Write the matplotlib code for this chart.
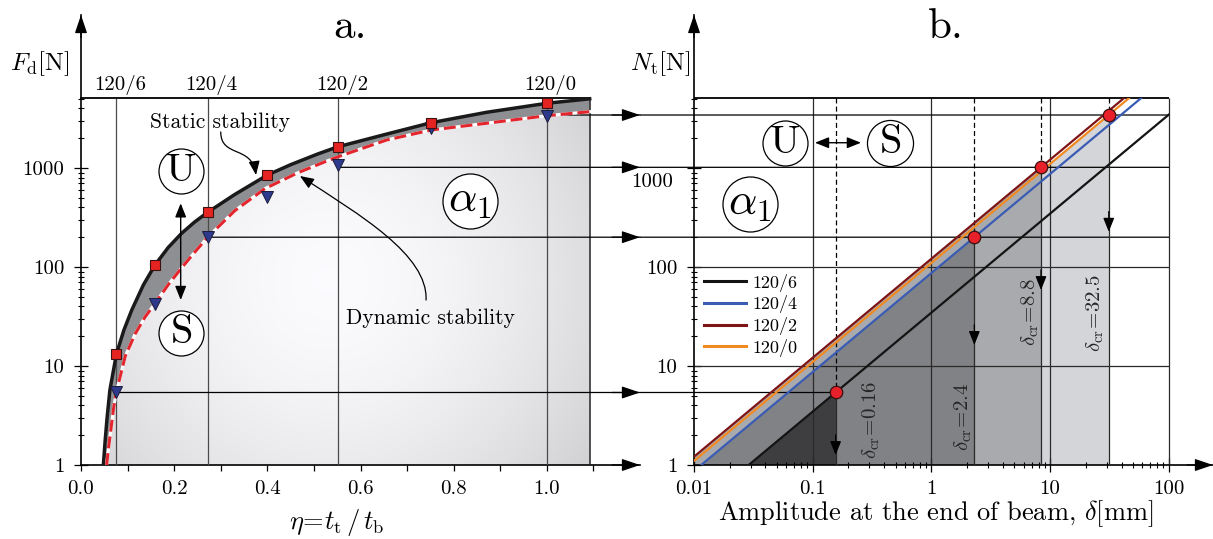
import numpy as np
import matplotlib.pyplot as plt
from matplotlib.patches import Polygon, Rectangle, ConnectionPatch, FancyArrowPatch
from matplotlib.path import Path
from matplotlib.lines import Line2D
from matplotlib.ticker import FixedLocator, FixedFormatter, NullFormatter

plt.rcParams['font.family'] = ['cmr10', 'DejaVu Serif']
plt.rcParams['mathtext.fontset'] = 'cm'
plt.rcParams['axes.unicode_minus'] = False

# ---------------------------------------------------------------- data
# panel a: critical force vs thickness ratio eta
eta_static = [0.048, 0.052, 0.056, 0.062, 0.076, 0.092, 0.109, 0.134, 0.159, 0.187,
              0.216, 0.244, 0.272, 0.330, 0.40, 0.45, 0.509, 0.552, 0.656, 0.752,
              0.871, 1.0, 1.092]
F_static = [1, 1.8, 3.0, 5.7, 13.2, 23, 36.8, 66, 105, 157,
            219, 285, 357, 540, 849, 1080, 1390, 1641, 2200, 2870,
            3655, 4505, 5000]

eta_dyn = [0.055, 0.0595, 0.064, 0.070, 0.076, 0.095, 0.116, 0.137, 0.159, 0.187,
           0.216, 0.244, 0.272, 0.330, 0.395, 0.466, 0.524, 0.552, 0.656, 0.752,
           0.871, 1.0, 1.092]
F_dyn = [1, 1.55, 2.26, 3.75, 5.5, 12.6, 21, 31, 43, 66,
         98, 141, 200, 370, 620, 897, 1158, 1300, 1918, 2420,
         2832, 3375, 3704]

eta_pts = [0.076, 0.159, 0.272, 0.40, 0.552, 0.752, 1.0]
F_static_pts = [13.2, 105, 357, 849, 1641, 2870, 4505]
F_dyn_pts = [5.4, 42.3, 200, 513, 1072, 2517, 3375]

profiles = ['120/6', '120/4', '120/2', '120/0']
eta_profile = [0.076, 0.272, 0.552, 1.0]
eta_max = 1.092
F_top = 5100

# panel b: force vs amplitude, critical points
N_cr = [5.4, 200, 1016, 3430]
delta_dot = [0.156, 2.30, 8.38, 31.2]
delta_labels = ['0.16', '2.4', '8.8', '32.5']
line_colors = ['#141414', '#3a5cb4', '#7e1416', '#f28a22']
fill_colors = ['#3e3e40', '#818285', '#a9aaad', '#d4d5d8']
arrow_tips = [1.26, 16.3, 58.5, 227]

# ---------------------------------------------------------------- figure
W, H = 1213, 539
fig = plt.figure(figsize=(W / 100, H / 100), dpi=100)


def px_axes(x0, x1, y_top, y_bot):
    return [x0 / W, 1 - y_bot / H, (x1 - x0) / W, (y_bot - y_top) / H]


ax1 = fig.add_axes(px_axes(81, 640, 15, 465))
ax2 = fig.add_axes(px_axes(694, 1213, 15, 465))

big_arrow = dict(arrowstyle='-|>,head_length=0.8,head_width=0.27', mutation_scale=14,
                 color='k', lw=0.9, shrinkA=0, shrinkB=0)
small_arrow = dict(arrowstyle='-|>,head_length=0.6,head_width=0.24', mutation_scale=14,
                   color='k', lw=0.9, shrinkA=0, shrinkB=0)
both_arrow = dict(arrowstyle='<|-|>,head_length=0.6,head_width=0.24', mutation_scale=14,
                  color='k', lw=1.0, shrinkA=0, shrinkB=0)


def circled(ax, x, y, txt, size, s):
    ax.scatter([x], [y], s=s, facecolor='white', edgecolor='k', lw=0.9, zorder=9)
    ax.text(x, y, txt, ha='center', va='center', fontsize=size, zorder=10)


def curved_arrow(ax, pts):
    path = Path(pts, [Path.MOVETO, Path.CURVE4, Path.CURVE4, Path.CURVE4])
    arr = FancyArrowPatch(path=path, arrowstyle='-|>,head_length=0.6,head_width=0.24',
                          mutation_scale=14, color='k', lw=0.9, zorder=6)
    ax.add_patch(arr)


# ---------------------------------------------------------------- panel a
ax1.set_yscale('log')

# radial gradient for the stable region
u = np.linspace(0, 1, 400)
v = np.linspace(0, 1, 300)
U, V = np.meshgrid(u, v)
d = np.hypot((U - 0.445) * 559, (V - 0.411) * 450)
g = np.clip(0.985 - 0.165 * (d / 320) ** 1.7, 0, 1)
img = np.dstack([g, g, np.minimum(g + 0.012, 1)])
im = ax1.imshow(img, extent=(0, 1, 0, 1), transform=ax1.transAxes, origin='lower',
                aspect='auto', zorder=1, interpolation='bilinear')
light = Polygon(list(zip(eta_dyn, F_dyn)) + [(eta_max, 1), (eta_dyn[0], 1)],
                closed=True, fc='none', ec='none')
ax1.add_patch(light)
im.set_clip_path(light)

band = Polygon(list(zip(eta_static, F_static)) + list(zip(eta_dyn[::-1], F_dyn[::-1])),
               closed=True, fc='#8e8f92', ec='none', zorder=2)
ax1.add_patch(band)

ax1.vlines(eta_profile, 1, F_top, color='#4a4a4a', lw=0.9, zorder=3)
ax1.plot([eta_max, eta_max], [1, F_top], color='#222222', lw=1.1, zorder=3)
ax1.plot([0, eta_max], [F_top, F_top], color='k', lw=1.3, zorder=3, clip_on=False)

ax1.plot(eta_static, F_static, color='#1a1a1a', lw=2.5, zorder=5)
ax1.plot(eta_dyn, F_dyn, color='white', lw=2.2, zorder=5)
ax1.plot(eta_dyn, F_dyn, color='#e3262d', lw=2.2, ls=(0, (3.9, 1.6)), zorder=6)

ax1.plot(eta_pts, F_static_pts, 's', ms=6.5, mfc='#e52421', mec='#3b1111', mew=0.8, zorder=8)
ax1.plot(eta_pts, F_dyn_pts, 'v', ms=8, mfc='#2d3a8c', mec='#1b1b3b', mew=0.7, zorder=7)

for e, lab in zip(eta_profile, profiles):
    ax1.text(e + 0.008, 0.834, lab, transform=ax1.get_xaxis_transform(),
             ha='center', va='baseline', fontsize=15)

# lines linking the dynamic critical forces to panel b
for i, N in enumerate(N_cr):
    d_end = delta_dot[0] if i == 0 else 100
    seg1 = ConnectionPatch(xyA=(eta_profile[i], N), coordsA=ax1.transData,
                           xyB=(1.0, N), coordsB=ax1.get_yaxis_transform(),
                           color='k', lw=0.9, zorder=4, clip_on=False)
    ax1.add_artist(seg1)
    seg2 = ConnectionPatch(xyA=(1.0, N), coordsA=ax1.get_yaxis_transform(),
                           xyB=(d_end, N), coordsB=ax2.transData,
                           color='k', lw=0.9, zorder=2.5, clip_on=False)
    ax2.add_artist(seg2)
    ax1.annotate('', xy=(1.0, N), xycoords=ax1.get_yaxis_transform(),
                 xytext=(0.95, N), textcoords=ax1.get_yaxis_transform(),
                 arrowprops=big_arrow, zorder=6)

ax1.text(0.298, 2917, 'Static stability', ha='center', va='center', fontsize=15.5, zorder=6)
curved_arrow(ax1, [(0.300, 2312), (0.300, 1262), (0.367, 1707), (0.3757, 849)])
ax1.text(0.751, 30.5, 'Dynamic stability', ha='center', va='center', fontsize=15.5, zorder=6)
curved_arrow(ax1, [(0.7407, 46.4), (0.745, 132), (0.599, 335), (0.470, 830)])

circled(ax1, 0.214, 939, r'$\mathrm{U}$', 29, 1050)
circled(ax1, 0.2147, 21.5, r'$\mathrm{S}$', 29, 1050)
ax1.annotate('', xy=(0.214, 440), xytext=(0.214, 46.4), arrowprops=both_arrow, zorder=8)
circled(ax1, 0.835, 464, r'$\alpha_1$', 32, 1570)

ax1.set_xlim(0, 1.2)
ax1.set_ylim(1, 10 ** (450 / 99))

# ---------------------------------------------------------------- panel b
ax2.set_xscale('log')
ax2.set_yscale('log')

clip_rect = Rectangle((0.01, 1), 100 - 0.01, F_top - 1, transform=ax2.transData)
for i in range(len(N_cr) - 1, -1, -1):
    k = N_cr[i] / delta_dot[i]
    ax2.fill([1 / k, delta_dot[i], delta_dot[i]], [1, 1, N_cr[i]],
             color=fill_colors[i], lw=0, zorder=1)

ax2.vlines([0.1, 1, 10, 100], 1, F_top, color='#2a2a2a', lw=0.9, zorder=2)
ax2.hlines([10, 100], 0.01, 100, color='#2a2a2a', lw=0.9, zorder=2)
ax2.hlines(F_top, 0.01, 100, color='k', lw=1.3, zorder=3)

for i, N in enumerate(N_cr):
    dd = delta_dot[i]
    ax2.plot([dd, dd], [F_top, N], color='k', lw=0.9, ls=(0, (4, 2.5)), zorder=3)
    ax2.plot([dd, dd], [N, 1], color='#2a2a2a', lw=0.9, zorder=3)
    ax2.annotate('', xy=(dd, arrow_tips[i]), xytext=(dd, arrow_tips[i] * 1.6),
                 arrowprops=small_arrow, zorder=5)

for i, N in enumerate(N_cr):
    k = N / delta_dot[i]
    ln, = ax2.plot([0.01, 100], [k * 0.01, k * 100], color=line_colors[i], lw=1.6, zorder=4)
    ln.set_clip_path(clip_rect)

ax2.plot(delta_dot, N_cr, 'o', ms=9, mfc='#e8202a', mec='#3a1010', mew=0.9, zorder=6)

label_pos = [(0.314, 2.85), (1.845, 3.07), (6.77, 35.4), (23.9, 34.3)]
for (x, y), lab in zip(label_pos, delta_labels):
    ax2.text(x, y, r'$\delta_{\rm cr}\!=\!' + lab + '$', rotation=90, ha='center',
             va='center', fontsize=15, color='#262626', zorder=5)

circled(ax2, 0.058, 1800, r'$\mathrm{U}$', 29, 1050)
circled(ax2, 0.448, 1800, r'$\mathrm{S}$', 29, 1100)
ax2.annotate('', xy=(0.255, 1800), xytext=(0.1045, 1800), arrowprops=both_arrow, zorder=8)
circled(ax2, 0.0296, 433, r'$\alpha_1$', 32, 1570)

handles = [Line2D([], [], color=c, lw=2.2) for c in line_colors]
ax2.legend(handles, profiles, loc='upper left', bbox_to_anchor=(0.02, 0.425),
           frameon=False, fontsize=13, handlelength=2.3, handletextpad=0.35,
           labelspacing=0.2, borderaxespad=0, borderpad=0)

ax2.set_xlim(0.01, 10 ** (519 / 118.7 - 2))
ax2.set_ylim(1, 10 ** (450 / 99))

# ---------------------------------------------------------------- axes styling
y_major = [1, 10, 100, 1000]
y_minor = [m * 10 ** e for e in range(0, 3) for m in range(2, 10)] + [2000, 3000, 4000, 5000]

for ax in (ax1, ax2):
    for s in ('top', 'right'):
        ax.spines[s].set_visible(False)
    for s in ('left', 'bottom'):
        ax.spines[s].set_linewidth(1.2)
    ax.yaxis.set_major_locator(FixedLocator(y_major))
    ax.yaxis.set_minor_locator(FixedLocator(y_minor))
    ax.yaxis.set_minor_formatter(NullFormatter())
    ax.tick_params(axis='y', which='major', direction='inout', length=10, width=0.9,
                   pad=7, labelsize=15)
    ax.tick_params(axis='y', which='minor', direction='inout', length=5, width=0.8)
    ax.annotate('', xy=(1, 0), xycoords='axes fraction', xytext=(0.95, 0),
                arrowprops=big_arrow)
    ax.annotate('', xy=(0, 1), xycoords='axes fraction', xytext=(0, 0.95),
                arrowprops=big_arrow)

ax1.yaxis.set_major_formatter(FixedFormatter([str(t) for t in y_major]))
# in panel b the 1000 label sits lower, clear of the linking arrow
ax2.yaxis.set_major_formatter(FixedFormatter(['1', '10', '100', '']))
ax2.text(-0.04, 722, '1000', transform=ax2.get_yaxis_transform(), ha='right',
         va='center', fontsize=15)

x1_major = [0, 0.2, 0.4, 0.6, 0.8, 1.0]
ax1.xaxis.set_major_locator(FixedLocator(x1_major))
ax1.xaxis.set_major_formatter(FixedFormatter(['%.1f' % t for t in x1_major]))
ax1.xaxis.set_minor_locator(FixedLocator([0.1, 0.3, 0.5, 0.7, 0.9, 1.1]))
ax1.tick_params(axis='x', which='both', direction='out', length=4, width=0.9, pad=7,
                labelsize=15)

x2_major = [0.01, 0.1, 1, 10, 100]
ax2.xaxis.set_major_locator(FixedLocator(x2_major))
ax2.xaxis.set_major_formatter(FixedFormatter(['0.01', '0.1', '1', '10', '100']))
ax2.xaxis.set_minor_locator(FixedLocator([m * 10.0 ** e for e in range(-2, 2) for m in range(2, 10)]))
ax2.xaxis.set_minor_formatter(NullFormatter())
ax2.tick_params(axis='x', which='major', direction='inout', length=10, width=0.9, pad=6,
                labelsize=15)
ax2.tick_params(axis='x', which='minor', direction='inout', length=5, width=0.8)

# titles and axis labels
ax1.text(0.481, 0.949, 'a.', transform=ax1.transAxes, ha='center', va='baseline', fontsize=31)
ax2.text(0.4855, 0.949, 'b.', transform=ax2.transAxes, ha='center', va='baseline', fontsize=31)
ax1.text(-0.127, 0.878, r'$F_{\rm d}$[N]', transform=ax1.transAxes, ha='left',
         va='baseline', fontsize=18)
ax2.text(-0.123, 0.878, r'$N_{\rm t}$[N]', transform=ax2.transAxes, ha='left',
         va='baseline', fontsize=18)
ax1.text(0.458, -0.127, r'$\eta\!=\!t_{\rm t}\,/\,t_{\rm b}$', transform=ax1.transAxes,
         ha='center', va='center', fontsize=19)
ax2.text(0.466, -0.109, r'Amplitude at the end of beam, $\delta$[mm]', transform=ax2.transAxes,
         ha='center', va='center', fontsize=19)

fig.savefig('out.png', dpi=100)
